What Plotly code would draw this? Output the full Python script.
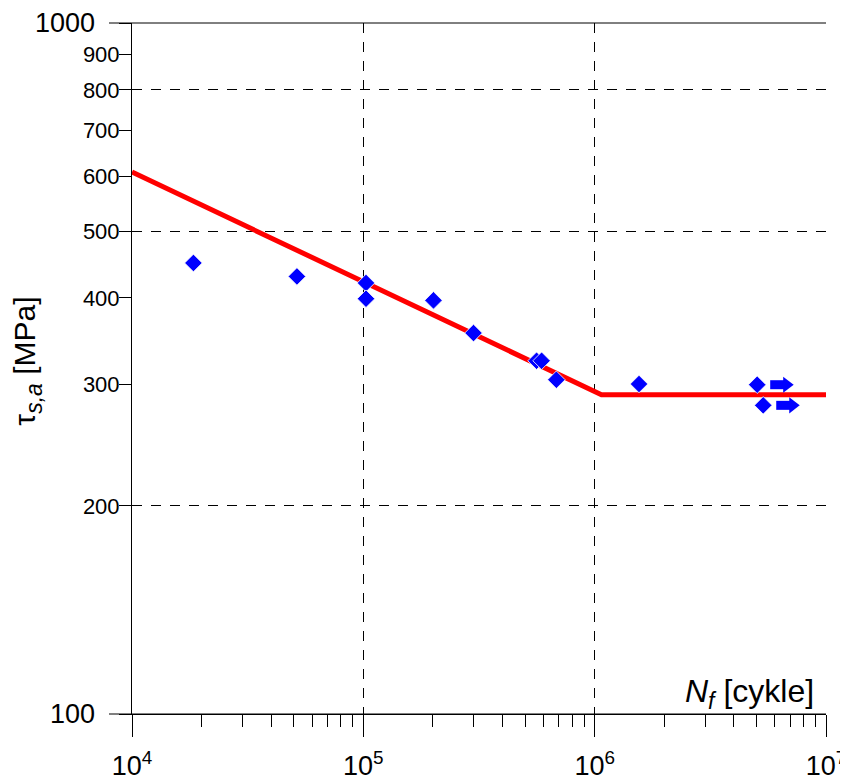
import plotly.graph_objects as go

# ---- data ----
N_cycles = [18430, 51640, 102700, 102700, 201000, 299400, 561000, 589700, 682900, 1555000, 5042000, 5354000]
tau_sa = [449.5, 429.8, 420.5, 399.0, 396.8, 355.9, 324.5, 324.5, 304.6, 300.3, 299.6, 279.7]
runout = [False, False, False, False, False, False, False, False, False, False, True, True]

curve_N = [1e4, 1.07e6, 1e7]
curve_tau = [608.6, 289.8, 289.8]

x_tick_vals = [1e4, 1e5, 1e6, 1e7]
x_tick_text = ["10<sup>4</sup>", "10<sup>5</sup>", "10<sup>6</sup>", "10<sup>7</sup>"]
x_minor_vals = [m * 10 ** e for e in (4, 5, 6) for m in range(2, 10)]
y_tick_vals = [100, 200, 300, 400, 500, 600, 700, 800, 900, 1000]
y_tick_text = ["", "200", "300", "400", "500", "600", "700", "800", "900", ""]
y_grid_vals = [200, 500, 800]

FONT = "Liberation Sans, Arial, sans-serif"
BLUE = "#0000FF"
RED = "#FF0000"

# arrow geometry (in decades, offsets relative to a run-out point)
SHAFT_START, SHAFT_END, HEAD_POS = 13 / 231.35, 27 / 231.35, 29.5 / 231.35

fig = go.Figure()

# hidden trace so that overlay axis (grid) is drawn
fig.add_trace(go.Scatter(x=[1e5], y=[300], yaxis="y2", mode="markers",
                         marker=dict(opacity=0), hoverinfo="skip", showlegend=False))

fig.add_trace(go.Scatter(x=curve_N, y=curve_tau, mode="lines",
                         line=dict(color=RED, width=5), showlegend=False))

fig.add_trace(go.Scatter(x=N_cycles, y=tau_sa, mode="markers",
                         marker=dict(symbol="diamond", size=13.5, color=BLUE,
                                     line=dict(color="white", width=0.8)),
                         showlegend=False))

# run-out arrows
sx, sy, hx, hy = [], [], [], []
for n, t, r in zip(N_cycles, tau_sa, runout):
    if r:
        sx += [n * 10 ** SHAFT_START, n * 10 ** SHAFT_END, None]
        sy += [t, t, None]
        hx.append(n * 10 ** HEAD_POS)
        hy.append(t)
fig.add_trace(go.Scatter(x=sx, y=sy, mode="lines", line=dict(color=BLUE, width=9),
                         showlegend=False, hoverinfo="skip"))
fig.add_trace(go.Scatter(x=hx, y=hy, mode="markers",
                         marker=dict(symbol="triangle-right", size=14, color=BLUE,
                                     line=dict(width=0)),
                         showlegend=False, hoverinfo="skip"))

fig.update_layout(
    width=848, height=780,
    margin=dict(l=124, r=30, t=15, b=74, autoexpand=False),
    plot_bgcolor="white", paper_bgcolor="white",
    font=dict(family=FONT, color="black"),
    showlegend=False,
    xaxis=dict(type="log", range=[4, 7], tickvals=x_tick_vals, ticktext=x_tick_text,
               ticks="outside", ticklen=22, tickcolor="black", tickwidth=1,
               tickfont=dict(size=27, family=FONT), automargin=False,
               ticklabelstandoff=6,
               showgrid=True, gridcolor="black", gridwidth=1, griddash="10px,9px",
               showline=True, linecolor="black", linewidth=1, zeroline=False,
               minor=dict(tickvals=x_minor_vals, ticks="outside", ticklen=12,
                          tickcolor="black", tickwidth=1, showgrid=False)),
    yaxis=dict(type="log", range=[2, 3], tickvals=y_tick_vals, ticktext=y_tick_text,
               ticks="outside", ticklen=12, tickcolor="black", tickwidth=1,
               tickfont=dict(size=22, family=FONT), automargin=False,
               ticklabelstandoff=-5,
               showgrid=False, showline=True, linecolor="black", linewidth=1,
               zeroline=False),
    yaxis2=dict(type="log", range=[2, 3], overlaying="y", side="left",
                tickvals=y_grid_vals, showticklabels=False, ticks="", automargin=False,
                showgrid=True, gridcolor="black", gridwidth=1, griddash="10px,9px",
                showline=False, zeroline=False),
)

# frame lines (top border and extended bottom line)
x_left = (109 - 132) / 694
fig.add_shape(type="line", xref="paper", yref="paper", x0=x_left, x1=1, y0=1, y1=1,
              line=dict(color="black", width=1))
fig.add_shape(type="line", xref="paper", yref="paper", x0=x_left, x1=1, y0=0, y1=0,
              line=dict(color="black", width=1))

# large end labels
for yv, txt in ((1, "1000"), (0, "100")):
    fig.add_annotation(xref="paper", yref="paper", x=(97 - 132) / 694, y=yv,
                       text=txt, showarrow=False, xanchor="right", yanchor="middle",
                       font=dict(size=27, family=FONT))

# axis titles
fig.add_annotation(xref="paper", yref="paper", x=(816 - 132) / 694, y=(714.3 - 694) / 691,
                   text="<i>N<sub><span style='font-size:23px'>f</span></sub></i> [cykle]",
                   showarrow=False, xanchor="right", yanchor="middle",
                   font=dict(size=32, family=FONT))
fig.add_annotation(xref="paper", yref="paper", x=(27 - 132) / 694, y=(714.3 - 362) / 691,
                   text="τ<sub><i><span style='font-size:23px'>s,a</span></i></sub> [MPa]",
                   showarrow=False, textangle=-90,
                   xanchor="center", yanchor="middle", font=dict(size=30, family=FONT))

fig.write_html("out.html")
